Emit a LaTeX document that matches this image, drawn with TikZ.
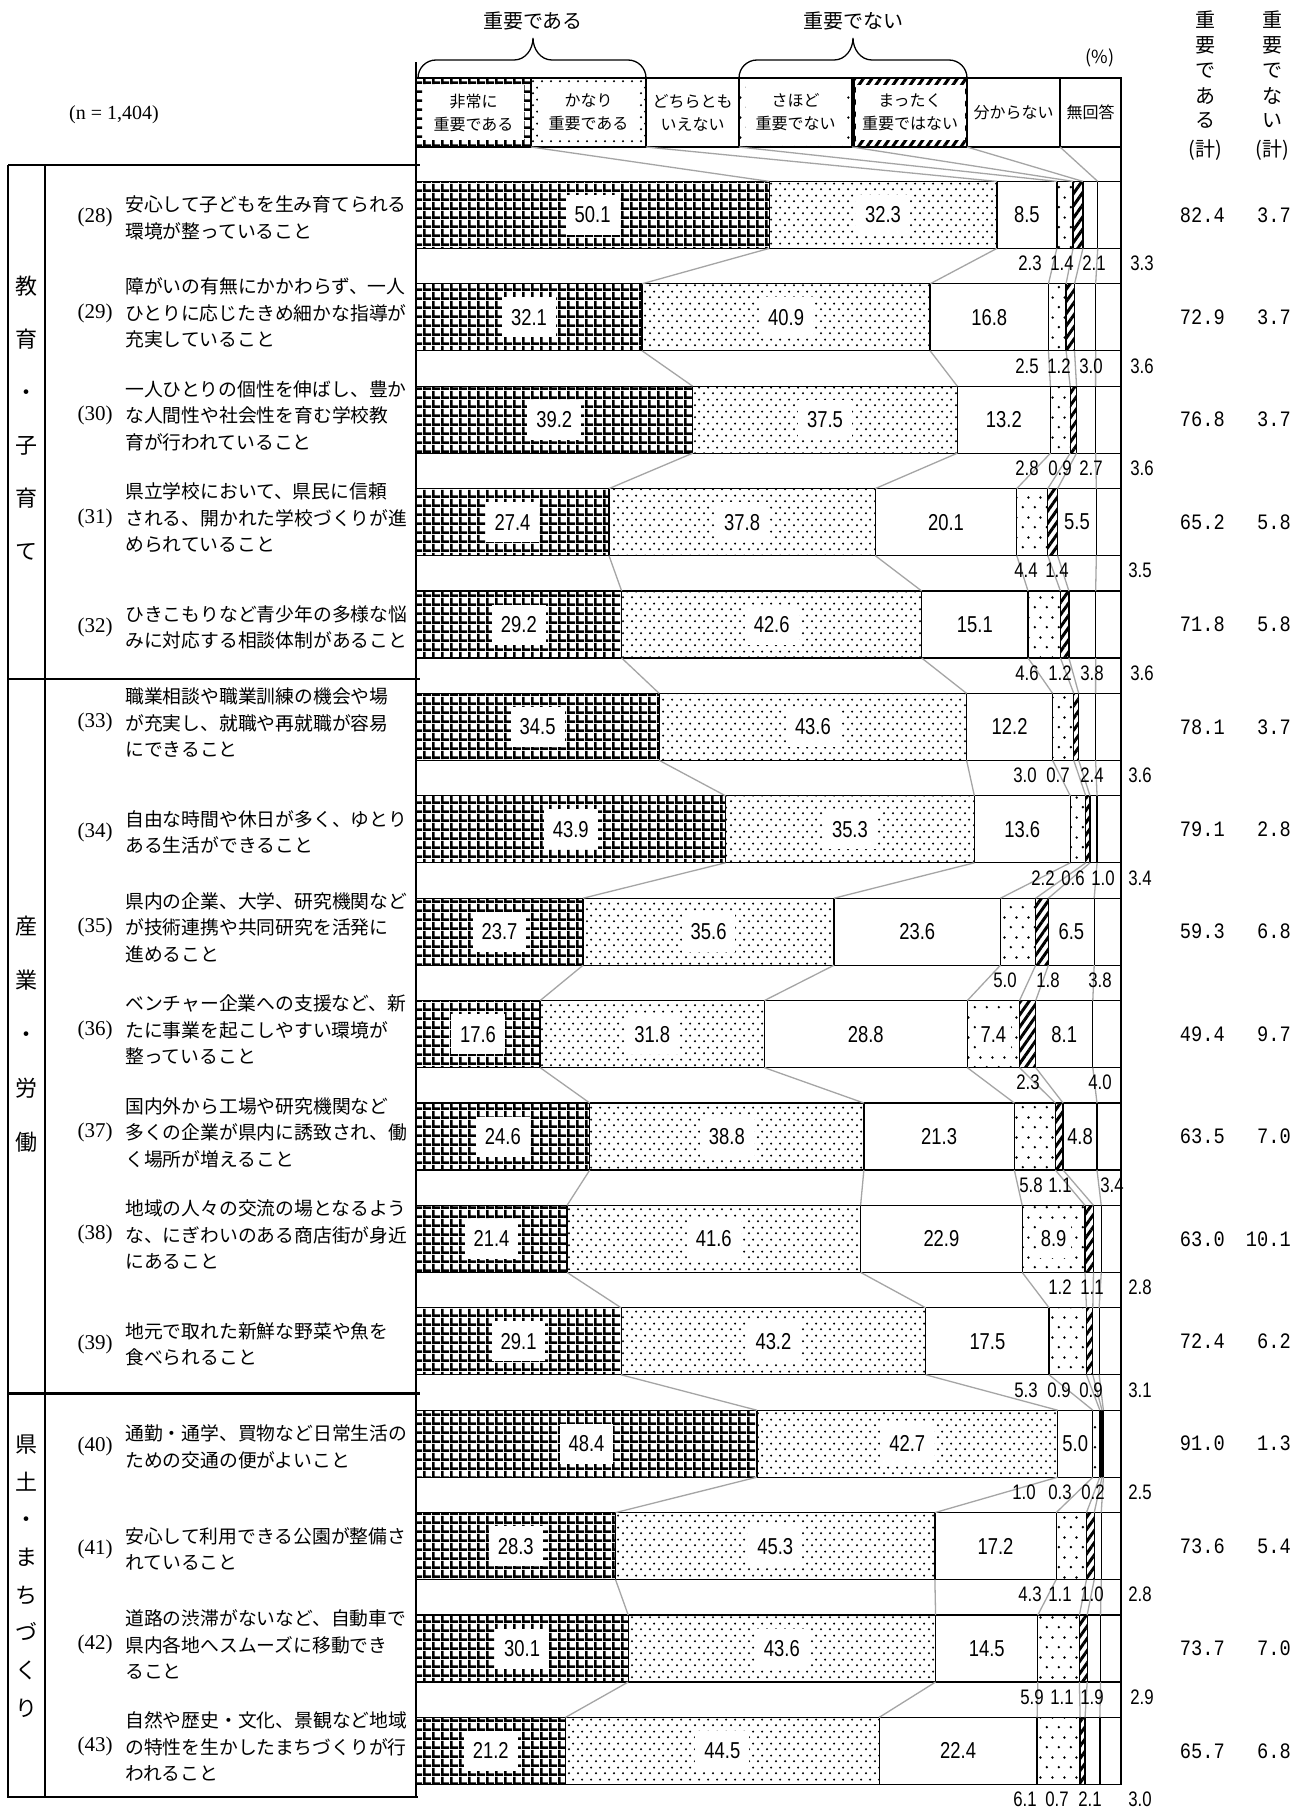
\documentclass[tikz,border=0pt]{standalone}
\usepackage{fontspec}
\setmainfont{Liberation Serif}
\newfontfamily\jp{Noto Sans CJK JP}
\newfontfamily\nums[FakeStretch=0.8]{Liberation Sans}
\newfontfamily\monof[FakeStretch=0.85]{Liberation Mono}
\usetikzlibrary{patterns,patterns.meta,calc}
\definecolor{conngray}{RGB}{165,165,165}
\pgfdeclarepatternformonly{gridpat}{\pgfqpoint{0pt}{0pt}}{\pgfqpoint{9pt}{9pt}}{\pgfqpoint{9pt}{9pt}}{%
  \pgfpathrectangle{\pgfqpoint{0pt}{0pt}}{\pgfqpoint{9pt}{3pt}}%
  \pgfpathrectangle{\pgfqpoint{0pt}{0pt}}{\pgfqpoint{3pt}{9pt}}%
  \pgfusepath{fill}}
\pgfdeclarepatternformonly{densedots}{\pgfqpoint{0pt}{0pt}}{\pgfqpoint{9pt}{12pt}}{\pgfqpoint{9pt}{12pt}}{%
  \pgfpathcircle{\pgfqpoint{2.25pt}{3pt}}{1.25pt}%
  \pgfpathcircle{\pgfqpoint{6.75pt}{9pt}}{1.25pt}%
  \pgfusepath{fill}}
\pgfdeclarepatternformonly{sparsedots}{\pgfqpoint{0pt}{0pt}}{\pgfqpoint{12pt}{20pt}}{\pgfqpoint{12pt}{20pt}}{%
  \pgfpathcircle{\pgfqpoint{3pt}{5pt}}{1.4pt}%
  \pgfpathcircle{\pgfqpoint{9pt}{15pt}}{1.4pt}%
  \pgfusepath{fill}}
\tikzset{
  segline/.style={draw=black,line width=1.3pt},
  conn/.style={draw=conngray,line width=1.3pt},
  stripes/.style={pattern={Lines[angle=55,distance=7pt,line width=3pt]}},
  inlab/.style={font=\fontsize{23}{23}\selectfont\nums,inner sep=1pt},
  inlabp/.style={inlab,fill=white,inner xsep=9pt,minimum height=40pt},
  lowlab/.style={font=\fontsize{21}{21}\selectfont\nums,inner sep=0pt},
  tot/.style={font=\fontsize{22}{22}\selectfont\monof,inner sep=0pt,anchor=east},
  itemtxt/.style={font=\fontsize{18.8}{26.5}\selectfont\jp,align=left,anchor=west,inner sep=0pt},
  itemnum/.style={font=\fontsize{21}{21}\selectfont,inner sep=0pt},
  catlab/.style={font=\fontsize{22}{#1}\selectfont\jp,align=center,inner sep=0pt},
  hdr/.style={font=\fontsize{16}{23}\selectfont\jp,align=center,inner sep=0pt},
  title/.style={font=\fontsize{20}{20}\selectfont\jp,inner sep=0pt},
  vchar/.style={font=\fontsize{20}{20}\selectfont\jp,inner sep=0pt},
  tline/.style={line width=2.2pt},
}
\begin{document}
\begin{tikzpicture}[x=1pt,y=-1pt]
\useasboundingbox (0,0) rectangle (1308,1812);
\fill[white] (0,0) rectangle (1308,1812);

% ---------- titles and braces
\node[title] (tA) at (533,21) {重要である};
\node[title] (tB) at (853,21) {重要でない};
\draw[line width=1.3pt] (418,78) to[out=90,in=180] (436,60) -- (514,60) to[out=0,in=-90] (533,38)
   to[out=-90,in=180] (552,60) -- (628,60) to[out=0,in=90] (646,78);
\draw[line width=1.3pt] (739,78) to[out=90,in=180] (757,60) -- (834,60) to[out=0,in=-90] (853,38)
   to[out=-90,in=180] (872,60) -- (949,60) to[out=0,in=90] (967,78);
\node[font=\fontsize{18}{18}\selectfont\jp] (pct) at (1100,58) {(\%)};
\node[font=\fontsize{20}{20}\selectfont] (nn) at (114,115) {(n = 1,404)};

% right vertical headings
\foreach \c [count=\i] in {重,要,で,あ,る}{
  \pgfmathsetmacro\yy{20+25.2*(\i-1)}
  \node[vchar] (ra\i) at (1205,\yy) {\c};
}
\foreach \c [count=\i] in {重,要,で,な,い}{
  \pgfmathsetmacro\yy{20+25.2*(\i-1)}
  \node[vchar] (rb\i) at (1272,\yy) {\c};
}
\node[vchar] (raK) at (1205,150) {(計)};
\node[vchar] (rbK) at (1272,150) {(計)};

% ---------- header boxes
\fill[pattern=gridpat] (416,78) rectangle (531,147);
\fill[white] (423,85) rectangle (524,140);
\fill[pattern=densedots] (531,78) rectangle (646,147);
\fill[white] (538,85) rectangle (639,140);
\fill[pattern=sparsedots] (739,78) rectangle (852,147);
\fill[white] (746,85) rectangle (845,140);
\fill[stripes] (852,78) rectangle (967,147);
\fill[white] (856,85) rectangle (965,140);
\draw[segline] (416,78) rectangle (1121,147);
\foreach \xx in {531,646,739,852,967,1060} \draw[segline] (\xx,78) -- (\xx,147);
\draw[line width=3pt] (853.5,78) -- (853.5,147);
\node[hdr] (hb1) at (473.5,112.5) {非常に\\重要である};
\node[hdr] (hb2) at (588.5,112.5) {かなり\\重要である};
\node[hdr] (hb3) at (692.5,112.5) {どちらとも\\いえない};
\node[hdr] (hb4) at (795.5,112.5) {さほど\\重要でない};
\node[hdr] (hb5) at (910,112.5) {まったく\\重要ではない};
\node[hdr] (hb6) at (1013.5,112.5) {分からない};
\node[hdr] (hb7) at (1090.5,112.5) {無回答};
\foreach \xx [count=\k] in {531,646,739,852,967,1060} \coordinate (h-\k) at (\xx,147);

% ---------- left table
\draw[line width=1.5pt] (416,62) -- (416,1797);
\draw[tline] (8,165) -- (420,165);
\draw[tline] (8,165) -- (8,1797) -- (418,1797);
\draw[tline] (45,165) -- (45,1797);
\draw[tline] (8,679) -- (420,679);
\draw[tline] (8,1393.5) -- (420,1393.5);
\node[catlab=53] (catA) at (27,418) {教\\育\\・\\子\\育\\て};
\node[catlab=54] (catB) at (27,1034) {産\\業\\・\\労\\働};
\node[catlab=37.7] (catC) at (27,1576) {県\\土\\・\\ま\\ち\\づ\\く\\り};

\foreach \n/\dy/\txt in {
28/3/{安心して子どもを生み育てられる\\環境が整っていること},
29/-4/{障がいの有無にかかわらず、一人\\ひとりに応じたきめ細かな指導が\\充実していること},
30/-4/{一人ひとりの個性を伸ばし、豊か\\な人間性や社会性を育む学校教\\育が行われていること},
31/-4/{県立学校において、県民に信頼\\される、開かれた学校づくりが進\\められていること},
32/3/{ひきこもりなど青少年の多様な悩\\みに対応する相談体制があること},
33/-4/{職業相談や職業訓練の機会や場\\が充実し、就職や再就職が容易\\にできること},
34/3/{自由な時間や休日が多く、ゆとり\\ある生活ができること},
35/-4/{県内の企業、大学、研究機関など\\が技術連携や共同研究を活発に\\進めること},
36/-4/{ベンチャー企業への支援など、新\\たに事業を起こしやすい環境が\\整っていること},
37/-4/{国内外から工場や研究機関など\\多くの企業が県内に誘致され、働\\く場所が増えること},
38/-4/{地域の人々の交流の場となるよう\\な、にぎわいのある商店街が身近\\にあること},
39/3/{地元で取れた新鮮な野菜や魚を\\食べられること},
40/3/{通勤・通学、買物など日常生活の\\ための交通の便がよいこと},
41/3/{安心して利用できる公園が整備さ\\れていること},
42/-4/{道路の渋滞がないなど、自動車で\\県内各地へスムーズに移動でき\\ること},
43/-4/{自然や歴史・文化、景観など地域\\の特性を生かしたまちづくりが行\\われること}}{
  \pgfmathsetmacro\ym{181.4+(\n-28)*102.4+33.5+\dy}
  \node[itemnum] (num\n) at (95,\ym) {(\n)};
  \node[itemtxt] (txt\n) at (125,\ym) {\txt};
}

% ---------- bars
\draw[segline] (1121,78) -- (1121,1784);
\foreach \n/\va/\vb/\vc/\vd/\ve/\vf/\vg in {
28/50.1/32.3/8.5/2.3/1.4/2.1/3.3,
29/32.1/40.9/16.8/2.5/1.2/3.0/3.6,
30/39.2/37.5/13.2/2.8/0.9/2.7/3.6,
31/27.4/37.8/20.1/4.4/1.4/5.5/3.5,
32/29.2/42.6/15.1/4.6/1.2/3.8/3.6,
33/34.5/43.6/12.2/3.0/0.7/2.4/3.6,
34/43.9/35.3/13.6/2.2/0.6/1.0/3.4,
35/23.7/35.6/23.6/5.0/1.8/6.5/3.8,
36/17.6/31.8/28.8/7.4/2.3/8.1/4.0,
37/24.6/38.8/21.3/5.8/1.1/4.8/3.4,
38/21.4/41.6/22.9/8.9/1.2/1.1/2.8,
39/29.1/43.2/17.5/5.3/0.9/0.9/3.1,
40/48.4/42.7/5.0/1.0/0.3/0.2/2.5,
41/28.3/45.3/17.2/4.3/1.1/1.0/2.8,
42/30.1/43.6/14.5/5.9/1.1/1.9/2.9,
43/21.2/44.5/22.4/6.1/0.7/2.1/3.0}{
  \pgfmathsetmacro\kk{705/(\va+\vb+\vc+\vd+\ve+\vf+\vg)}
  \pgfmathsetmacro\yt{181.4+(\n-28)*102.4}
  \pgfmathsetmacro\ybt{\yt+67}
  \pgfmathsetmacro\xA{416+\kk*\va}
  \pgfmathsetmacro\xB{\xA+\kk*\vb}
  \pgfmathsetmacro\xC{\xB+\kk*\vc}
  \pgfmathsetmacro\xD{\xC+\kk*\vd}
  \pgfmathsetmacro\xE{\xD+\kk*\ve}
  \pgfmathsetmacro\xF{\xE+\kk*\vf}
  \coordinate (t\n-0) at (416,\yt);  \coordinate (b\n-0) at (416,\ybt);
  \coordinate (t\n-1) at (\xA,\yt);  \coordinate (b\n-1) at (\xA,\ybt);
  \coordinate (t\n-2) at (\xB,\yt);  \coordinate (b\n-2) at (\xB,\ybt);
  \coordinate (t\n-3) at (\xC,\yt);  \coordinate (b\n-3) at (\xC,\ybt);
  \coordinate (t\n-4) at (\xD,\yt);  \coordinate (b\n-4) at (\xD,\ybt);
  \coordinate (t\n-5) at (\xE,\yt);  \coordinate (b\n-5) at (\xE,\ybt);
  \coordinate (t\n-6) at (\xF,\yt);  \coordinate (b\n-6) at (\xF,\ybt);
  \coordinate (t\n-7) at (1121,\yt); \coordinate (b\n-7) at (1121,\ybt);
  \fill[white] (t\n-0) rectangle (b\n-7);
  \fill[pattern=gridpat] (t\n-0) rectangle (b\n-1);
  \fill[pattern=densedots] (t\n-1) rectangle (b\n-2);
  \fill[pattern=sparsedots] (t\n-3) rectangle (b\n-4);
  \fill[stripes] (t\n-4) rectangle (b\n-5);
  \draw[segline] (t\n-0) rectangle (b\n-7);
  \foreach \k in {1,...,6} \draw[segline] (t\n-\k) -- (b\n-\k);
  \node[inlabp] (v\n-1) at ($(t\n-0)!0.5!(b\n-1)$) {\va};
  \node[inlabp] (v\n-2) at ($(t\n-1)!0.5!(b\n-2)$) {\vb};
  \node[inlab]  (v\n-3) at ($(t\n-2)!0.5!(b\n-3)$) {\vc};
}
% extra inner labels
\foreach \n/\t in {36/7.4, 38/8.9}
  \node[inlabp,inner xsep=5pt,minimum height=38pt] (w\n-4) at ($(t\n-3)!0.5!(b\n-4)$) {\t};
\foreach \n/\t in {31/5.5, 35/6.5, 36/8.1, 37/4.8}
  \node[inlab] (w\n-6) at ($(t\n-5)!0.5!(b\n-6)$) {\t};

% connectors
\foreach \k in {1,...,6} \draw[conn] (h-\k) -- (t28-\k);
\foreach \n in {28,...,42}{
  \pgfmathtruncatemacro\m{\n+1}
  \foreach \k in {1,...,6} \draw[conn] (b\n-\k) -- (t\m-\k);
}

% small labels below bars
\foreach \n/\x/\t [count=\i] in {
28/1030/2.3, 28/1062/1.4, 28/1094/2.1, 28/1142/3.3,
29/1027/2.5, 29/1059/1.2, 29/1091/3.0, 29/1142/3.6,
30/1027/2.8, 30/1060/0.9, 30/1091/2.7, 30/1142/3.6,
31/1026/4.4, 31/1057/1.4, 31/1140/3.5,
32/1027/4.6, 32/1060/1.2, 32/1092/3.8, 32/1142/3.6,
33/1025/3.0, 33/1058/0.7, 33/1092/2.4, 33/1140/3.6,
34/1043/2.2, 34/1073/0.6, 34/1103/1.0, 34/1140/3.4,
35/1005/5.0, 35/1048/1.8, 35/1100/3.8,
36/1028/2.3, 36/1100/4.0,
37/1031/5.8, 37/1060/1.1, 37/1112/3.4,
38/1060/1.2, 38/1092/1.1, 38/1140/2.8,
39/1026/5.3, 39/1059/0.9, 39/1091/0.9, 39/1140/3.1,
40/1024/1.0, 40/1060/0.3, 40/1093/0.2, 40/1140/2.5,
41/1030/4.3, 41/1060/1.1, 41/1092/1.0, 41/1140/2.8,
42/1032/5.9, 42/1062/1.1, 42/1092/1.9, 42/1142/2.9,
43/1025/6.1, 43/1057/0.7, 43/1090/2.1, 43/1140/3.0}{
  \pgfmathsetmacro\yy{181.4+(\n-28)*102.4+67+15}
  \node[lowlab] (low\i) at (\x,\yy) {\t};
}

% totals
\foreach \n/\p/\q in {28/82.4/3.7, 29/72.9/3.7, 30/76.8/3.7, 31/65.2/5.8, 32/71.8/5.8,
  33/78.1/3.7, 34/79.1/2.8, 35/59.3/6.8, 36/49.4/9.7, 37/63.5/7.0, 38/63.0/10.1,
  39/72.4/6.2, 40/91.0/1.3, 41/73.6/5.4, 42/73.7/7.0, 43/65.7/6.8}{
  \pgfmathsetmacro\ym{181.4+(\n-28)*102.4+33.5}
  \node[tot] (sa\n) at (1225,\ym) {\p};
  \node[tot] (sb\n) at (1291,\ym) {\q};
}
\end{tikzpicture}
\end{document}
